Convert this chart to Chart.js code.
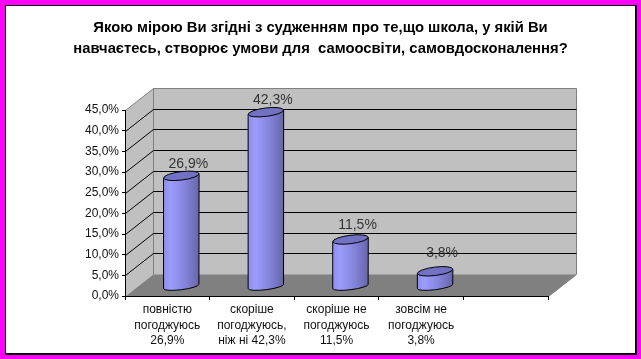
<!DOCTYPE html>
<html>
<head>
<meta charset="utf-8">
<style>
  html, body { margin: 0; padding: 0; background: #fff; overflow: hidden; }
  #frame { position: absolute; left: 0; top: 0; width: 641px; height: 359px; box-sizing: border-box; border: solid #ff00ff; border-width: 5px 4px 4px 5px; }
  #inner { width: 100%; height: 100%; box-sizing: border-box; border: solid #000; border-width: 1px 2px 2px 1px; background: #fff; }
  #chart { position: absolute; left: 0; top: 0; }
</style>
<script src="https://cdn.jsdelivr.net/npm/chart.js@4/dist/chart.umd.min.js"></script>
</head>
<body>
<div id="frame"><div id="inner"></div></div>
<canvas id="chart" width="641" height="359"></canvas>
<script>
// Data
const titleLines = [
  'Якою мірою Ви згідні з судженням про те,що школа, у якій Ви',
  'навчаєтесь, створює умови для  самоосвіти, самовдосконалення?'
];
const categories = [
  ['повністю', 'погоджуюсь', '26,9%'],
  ['скоріше', 'погоджуюсь,', 'ніж ні 42,3%'],
  ['скоріше не', 'погоджуюсь', '11,5%'],
  ['зовсім не', 'погоджуюсь', '3,8%'],
  ''
];
const values = [26.9, 42.3, 11.5, 3.8, null];
const valueLabels = ['26,9%', '42,3%', '11,5%', '3,8%', ''];

// 3D box depth in pixels
const depthX = 28;
const depthY = -22;
const arial = '"Liberation Sans", Arial, sans-serif';
// how far each value label sits above its bar
const labelLift = [12, 12, 14, 18, 0];

function crisp(v) {
  return Math.round(v) + 0.5;
}

// the title spans the whole page, not just the padded plot width
const titleWidthPlugin = {
  id: 'titleWidth',
  afterLayout(chart) {
    chart.titleBlock.left = 0;
    chart.titleBlock.right = chart.width;
    chart.titleBlock.width = chart.width;
  }
};

// walls and floor, behind the axes
const wallsPlugin = {
  id: 'walls',
  beforeDraw(chart) {
    const ctx = chart.ctx;
    const a = chart.chartArea;
    const yScale = chart.scales.y;
    const l = crisp(a.left), r = crisp(a.right), t = crisp(a.top), b = crisp(a.bottom);
    ctx.save();
    ctx.lineWidth = 1;
    ctx.strokeStyle = '#808080';

    ctx.fillStyle = '#c0c0c0';
    ctx.beginPath();
    ctx.moveTo(l, t);
    ctx.lineTo(l + depthX, t + depthY);
    ctx.lineTo(r + depthX, t + depthY);
    ctx.lineTo(r + depthX, b + depthY);
    ctx.lineTo(r, b);
    ctx.lineTo(l, b);
    ctx.closePath();
    ctx.fill();
    ctx.stroke();

    ctx.fillStyle = '#808080';
    ctx.beginPath();
    ctx.moveTo(l, b);
    ctx.lineTo(l + depthX, b + depthY);
    ctx.lineTo(r + depthX, b + depthY);
    ctx.lineTo(r, b);
    ctx.closePath();
    ctx.fill();

    ctx.beginPath();
    ctx.moveTo(l + depthX, t + depthY);
    ctx.lineTo(l + depthX, b + depthY);
    ctx.stroke();

    ctx.strokeStyle = '#000';
    yScale.ticks.forEach((tick, i) => {
      if (tick.value === 0 || tick.value === yScale.max) return;
      const y = crisp(yScale.getPixelForTick(i));
      ctx.beginPath();
      ctx.moveTo(l, y);
      ctx.lineTo(l + depthX, y + depthY);
      ctx.lineTo(r + depthX, y + depthY);
      ctx.stroke();
    });
    ctx.restore();
  }
};

// bars are laid out by the library, then painted as tilted cylinders
const cylinderPlugin = {
  id: 'cylinders',
  beforeDatasetDraw(chart, args) {
    const ctx = chart.ctx;
    const meta = args.meta;
    const rise = 2.2;      // half of the tilt across the bar
    const tilt = Math.atan2(2 * rise, 35);

    meta.data.forEach((bar, i) => {
      if (values[i] === null) return;
      const p = bar.getProps(['x', 'y', 'base', 'width'], true);
      const cx = p.x + depthX / 2;
      const top = p.y + depthY / 2 + 2;
      const base = p.base + depthY / 2 + 2;
      const rx = p.width / 2;

      const grad = ctx.createLinearGradient(cx - rx, 0, cx + rx, 0);
      grad.addColorStop(0, '#8d8dec');
      grad.addColorStop(0.2, '#9c9cff');
      grad.addColorStop(0.6, '#8484dc');
      grad.addColorStop(1, '#6666aa');

      ctx.save();
      ctx.lineWidth = 1;
      ctx.strokeStyle = '#000';
      ctx.fillStyle = grad;
      ctx.beginPath();
      ctx.moveTo(cx - rx, top + rise);
      ctx.lineTo(cx - rx, base + rise);
      ctx.ellipse(cx, base, rx, 3.2, -tilt, Math.PI, 0, true);
      ctx.lineTo(cx + rx, top - rise);
      ctx.closePath();
      ctx.fill();
      ctx.stroke();

      ctx.fillStyle = '#7272c4';
      ctx.beginPath();
      ctx.ellipse(cx, top, rx, 4.2, -tilt, 0, Math.PI * 2);
      ctx.fill();
      ctx.stroke();

      ctx.fillStyle = '#333';
      ctx.font = '14px ' + arial;
      ctx.textAlign = 'center';
      ctx.textBaseline = 'middle';
      ctx.fillText(valueLabels[i], cx + 7, top - labelLift[i]);
      ctx.restore();
    });
    return false;
  }
};

const config = {
  type: 'bar',
  data: {
    labels: categories,
    datasets: [{
      label: 'Відповіді',
      data: values,
      backgroundColor: '#8d8dec',
      barPercentage: 0.42,
      categoryPercentage: 1
    }]
  },
  options: {
    responsive: false,
    animation: false,
    events: [],
    layout: { padding: { left: 0, right: 93, top: 0, bottom: 0 } },
    plugins: {
      legend: { display: false },
      tooltip: { enabled: false },
      title: {
        display: true,
        text: titleLines,
        color: '#000',
        font: { family: arial, size: 14.8, weight: 'bold', lineHeight: 1.42 },
        padding: { top: 17, bottom: 51 }
      }
    },
    scales: {
      x: {
        grid: { drawOnChartArea: false, color: '#000', tickLength: 4 },
        border: { color: '#000' },
        ticks: {
          color: '#111',
          font: { family: arial, size: 12, lineHeight: 1.3 },
          maxRotation: 0,
          minRotation: 0,
          autoSkip: false,
          padding: 2
        },
        afterFit(scale) { scale.height = 63; }
      },
      y: {
        min: 0,
        max: 45,
        grid: { drawOnChartArea: false, color: '#000', tickLength: 3 },
        border: { color: '#000' },
        ticks: {
          stepSize: 5,
          color: '#111',
          font: { family: arial, size: 12 },
          padding: 3,
          callback: v => v.toFixed(1).replace('.', ',') + '%'
        },
        afterFit(scale) { scale.width = 125; }
      }
    }
  },
  plugins: [titleWidthPlugin, wallsPlugin, cylinderPlugin]
};

const myChart = new Chart(document.getElementById('chart'), config);
</script>
</body>
</html>
